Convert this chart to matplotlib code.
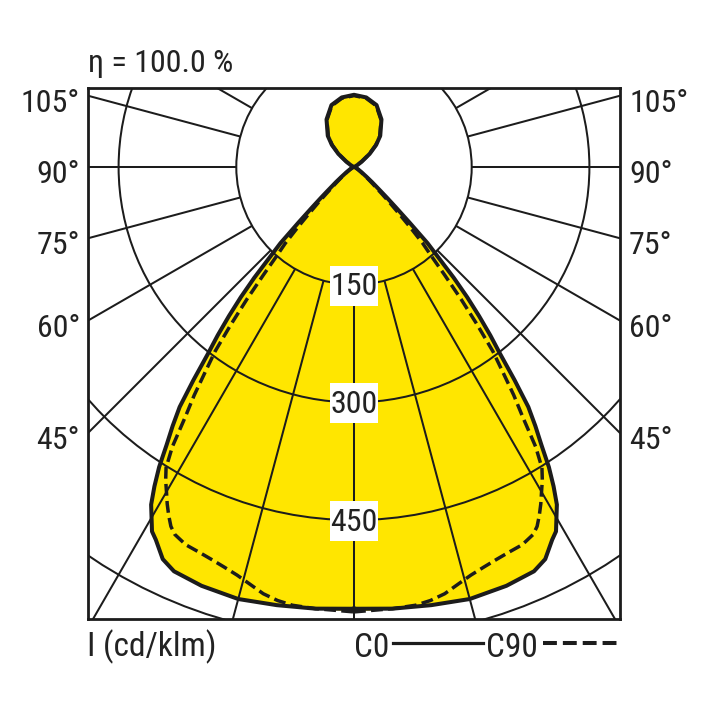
import numpy as np
import matplotlib
matplotlib.use('Agg')
import matplotlib.pyplot as plt
from matplotlib import font_manager as fm
from matplotlib.patches import Circle, Rectangle
from matplotlib.lines import Line2D

# ---------------- data (angles from nadir in degrees, intensity in cd/klm) ----------------
c0_angles = [0, 5, 10, 15, 20, 24, 26, 28, 29, 30, 31, 32, 33, 34, 35, 36, 37, 38, 39, 40,
             41, 42, 43, 44, 45, 46, 47, 48, 50, 52, 55, 60, 70, 80, 90,
             100, 110, 120, 125, 130, 135, 140, 150, 160, 170, 180]
c0_values = [563, 565, 567, 570, 568, 564, 556, 538, 531, 516, 502, 480, 456, 427, 403, 378, 340, 303, 276, 248,
             220, 190, 158, 135, 100, 75, 58, 45, 30, 20, 12, 6, 2, 1, 0,
             0, 1, 5, 12, 26, 40, 52, 70, 84, 90, 92]

c90_angles = [0, 5, 8, 10, 12, 14, 16, 18, 20, 22, 24, 26, 27, 28, 29, 30, 31, 32, 33, 34,
              35, 36, 37, 38, 39, 40, 41, 42, 43, 44, 45, 46, 48, 50, 55, 60, 70, 80, 90,
              100, 110, 120, 125, 130, 135, 140, 150, 160, 170, 180]
c90_values = [567, 565, 564, 561, 556, 548, 541, 536, 532, 529, 527, 521, 514, 503, 491, 478, 466, 452, 425, 385,
              355, 322, 294, 255, 217, 180, 150, 131, 105, 82, 65, 50, 32, 22, 10, 5, 2, 1, 0,
              0, 1, 5, 12, 25, 39, 51, 69, 83, 89, 91]

ring_values = [150, 300, 450, 600]
ring_label_values = [150, 300, 450]
radial_step_deg = 15
side_label_angles = [105, 90, 75, 60, 45]
side_labels = ['105°', '90°', '75°', '60°', '45°']
eta_text = 'η = 100.0 %'
unit_text = 'I (cd/klm)'
legend_names = ['C0', 'C90']

# ---------------- fonts: look for a narrow / condensed sans face ----------------
def find_narrow():
    prefs = ['liberationsansnarrow-regular', 'robotocondensed-regular', 'roboto_condensed-regular',
             'dejavusanscondensed.ttf', 'notosans-condensed', 'opensans-condensed', 'opensanscondensed']
    files = [f.fname for f in fm.fontManager.ttflist]
    low = [p.lower() for p in files]
    for p in prefs:
        for f, l in zip(files, low):
            if p in l.replace(' ', '').replace('_', '-') or p in l:
                return f
    for f, l in zip(files, low):
        if ('narrow' in l or 'condensed' in l) and not any(
                k in l for k in ['bold', 'italic', 'oblique', 'light', 'thin', 'medium', 'black', 'semi', 'extra']):
            return f
    return None


narrow = find_narrow()
if narrow:
    FP = dict(fontproperties=fm.FontProperties(fname=narrow))
    SIZE = 23
else:
    plt.rcParams['font.family'] = ['Liberation Sans', 'DejaVu Sans']
    FP = {}
    SIZE = 20

plt.rcParams['lines.scale_dashes'] = False

YELLOW = '#FFE600'
INK = '#1c1c1c'
TXT = '#222222'

W = 708
fig = plt.figure(figsize=(7.08, 7.08), dpi=100)
fig.patch.set_facecolor('white')

# frame in pixels
L, R, T, B = 88, 620, 88, 619
cx, cy = 354, 167
scale = 117.7 / 150.0   # px per cd/klm

ax = fig.add_axes([L / W, 1 - B / W, (R - L) / W, (B - T) / W])
ax.set_xlim((L - cx) / scale, (R - cx) / scale)
ax.set_ylim(-(B - cy) / scale, (cy - T) / scale)
ax.set_xticks([])
ax.set_yticks([])
for s in ax.spines.values():
    s.set_linewidth(2.0)
    s.set_color(INK)
    s.set_zorder(10)


def polar_curve(angles, values):
    a = np.radians(np.asarray(angles, float))
    v = np.asarray(values, float)
    xr = v * np.sin(a)
    yr = -v * np.cos(a)
    x = np.concatenate([xr, -xr[::-1]])
    y = np.concatenate([yr, yr[::-1]])
    return x, y


def txt(x, y, s, size, **kw):
    if FP:
        t = fig.text(x, y, s, color=TXT, **kw)
        fp = FP['fontproperties'].copy()
        fp.set_size(size)
        t.set_fontproperties(fp)
        return t
    return fig.text(x, y, s, color=TXT, fontsize=size, **kw)


x0, y0 = polar_curve(c0_angles, c0_values)
x9, y9 = polar_curve(c90_angles, c90_values)

ax.fill(x0, y0, color=YELLOW, lw=0, zorder=1)
ax.fill(x9, y9, color=YELLOW, lw=0, zorder=1)

# grid rings
for r in ring_values:
    ax.add_patch(Circle((0, 0), r, fill=False, lw=1.45, ec=INK, zorder=2))
# radial lines, starting from the first ring
r_in, r_out = ring_values[0], 2000
for k in range(360 // radial_step_deg):
    th = np.radians(k * radial_step_deg)
    ax.plot([r_in * np.sin(th), r_out * np.sin(th)],
            [-r_in * np.cos(th), -r_out * np.cos(th)],
            color=INK, lw=1.45, zorder=2, solid_capstyle='butt')

# curves
ax.plot(x9, y9, color=INK, lw=2.5, dashes=(8.5, 3.8), zorder=4)
ax.plot(x0, y0, color=INK, lw=2.9, zorder=5, solid_joinstyle='round')

# ring labels: white boxes 48 x 40 px
bw, bh = 48 / scale, 40 / scale
for v in ring_label_values:
    ax.add_patch(Rectangle((-bw / 2, -v - bh / 2 - 1 / scale), bw, bh, fc='white', ec='none', zorder=6))
    t = ax.text(0, -v - 10.5 / scale, str(v), ha='center', va='baseline', color=TXT, zorder=7)
    if FP:
        fp = FP['fontproperties'].copy(); fp.set_size(SIZE); t.set_fontproperties(fp)
    else:
        t.set_fontsize(SIZE)

# side angle labels
half_w = cx - L
for a, lab in zip(side_label_angles, side_labels):
    th = np.radians(a)
    y_line = cy + half_w * np.cos(th) / np.sin(th)
    base = y_line + 16
    txt(80 / W, 1 - base / W, lab, SIZE, ha='right', va='baseline')
    txt(629 / W, 1 - base / W, lab, SIZE, ha='left', va='baseline')

# top text
txt(88 / W, 1 - 71.7 / W, eta_text, SIZE, ha='left', va='baseline')

# bottom texts / legend
txt(87 / W, 1 - 656.7 / W, unit_text, SIZE + 1, ha='left', va='baseline')
txt(389 / W, 1 - 656.7 / W, legend_names[0], SIZE + 1, ha='right', va='baseline')
txt(538 / W, 1 - 656.7 / W, legend_names[1], SIZE + 1, ha='right', va='baseline')
ly = 1 - 643 / W
fig.add_artist(Line2D([393 / W, 483 / W], [ly, ly], color=INK, lw=2.3))
fig.add_artist(Line2D([543 / W, 618 / W], [ly, ly], color=INK, lw=2.9, dashes=(10, 4.3)))

fig.savefig('out.png', dpi=100, facecolor='white')
